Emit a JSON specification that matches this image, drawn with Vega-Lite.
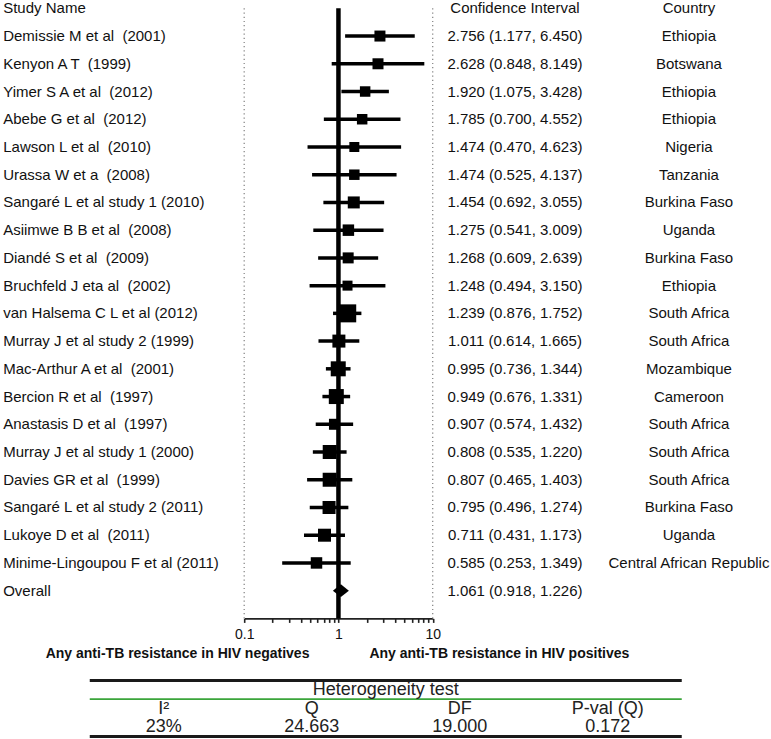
{
  "$schema": "https://vega.github.io/schema/vega-lite/v6.json",
  "background": "white",
  "padding": {"left": 3, "top": 0, "right": 0, "bottom": 0},
  "config": {"view": {"stroke": null}, "font": "Liberation Sans"},
  "datasets": {
    "rows": [
      {"study": "Study Name", "ci": "Confidence Interval", "country": "Country"},
      {"study": "Demissie M et al \u00a0(2001)", "or": 2.756, "lo": 1.177, "hi": 6.45, "w": 3.91, "ci": "2.756 (1.177, 6.450)", "country": "Ethiopia"},
      {"study": "Kenyon A T \u00a0(1999)", "or": 2.628, "lo": 0.848, "hi": 8.149, "w": 3.91, "ci": "2.628 (0.848, 8.149)", "country": "Botswana"},
      {"study": "Yimer S A et al \u00a0(2012)", "or": 1.92, "lo": 1.075, "hi": 3.428, "w": 3.55, "ci": "1.920 (1.075, 3.428)", "country": "Ethiopia"},
      {"study": "Abebe G et al \u00a0(2012)", "or": 1.785, "lo": 0.7, "hi": 4.552, "w": 3.55, "ci": "1.785 (0.700, 4.552)", "country": "Ethiopia"},
      {"study": "Lawson L et al \u00a0(2010)", "or": 1.474, "lo": 0.47, "hi": 4.623, "w": 3.23, "ci": "1.474 (0.470, 4.623)", "country": "Nigeria"},
      {"study": "Urassa W et a \u00a0(2008)", "or": 1.474, "lo": 0.525, "hi": 4.137, "w": 3.55, "ci": "1.474 (0.525, 4.137)", "country": "Tanzania"},
      {"study": "Sangaré L et al study 1 (2010)", "or": 1.454, "lo": 0.692, "hi": 3.055, "w": 4.65, "ci": "1.454 (0.692, 3.055)", "country": "Burkina Faso"},
      {"study": "Asiimwe B B et al \u00a0(2008)", "or": 1.275, "lo": 0.541, "hi": 3.009, "w": 4.26, "ci": "1.275 (0.541, 3.009)", "country": "Uganda"},
      {"study": "Diandé S et al \u00a0(2009)", "or": 1.268, "lo": 0.609, "hi": 2.639, "w": 3.91, "ci": "1.268 (0.609, 2.639)", "country": "Burkina Faso"},
      {"study": "Bruchfeld J eta al \u00a0(2002)", "or": 1.248, "lo": 0.494, "hi": 3.15, "w": 3.23, "ci": "1.248 (0.494, 3.150)", "country": "Ethiopia"},
      {"study": "van Halsema C L et al (2012)", "or": 1.239, "lo": 0.876, "hi": 1.752, "w": 10.47, "ci": "1.239 (0.876, 1.752)", "country": "South Africa"},
      {"study": "Murray J et al study 2 (1999)", "or": 1.011, "lo": 0.614, "hi": 1.665, "w": 5.46, "ci": "1.011 (0.614, 1.665)", "country": "South Africa"},
      {"study": "Mac-Arthur A et al \u00a0(2001)", "or": 0.995, "lo": 0.736, "hi": 1.344, "w": 7.27, "ci": "0.995 (0.736, 1.344)", "country": "Mozambique"},
      {"study": "Bercion R et al \u00a0(1997)", "or": 0.949, "lo": 0.676, "hi": 1.331, "w": 7.27, "ci": "0.949 (0.676, 1.331)", "country": "Cameroon"},
      {"study": "Anastasis D et al \u00a0(1997)", "or": 0.907, "lo": 0.574, "hi": 1.432, "w": 3.91, "ci": "0.907 (0.574, 1.432)", "country": "South Africa"},
      {"study": "Murray J et al study 1 (2000)", "or": 0.808, "lo": 0.535, "hi": 1.22, "w": 6.33, "ci": "0.808 (0.535, 1.220)", "country": "South Africa"},
      {"study": "Davies GR et al \u00a0(1999)", "or": 0.807, "lo": 0.465, "hi": 1.403, "w": 6.33, "ci": "0.807 (0.465, 1.403)", "country": "South Africa"},
      {"study": "Sangaré L et al study 2 (2011)", "or": 0.795, "lo": 0.496, "hi": 1.274, "w": 5.46, "ci": "0.795 (0.496, 1.274)", "country": "Burkina Faso"},
      {"study": "Lukoye D et al \u00a0(2011)", "or": 0.711, "lo": 0.431, "hi": 1.173, "w": 5.46, "ci": "0.711 (0.431, 1.173)", "country": "Uganda"},
      {"study": "Minime-Lingoupou F et al (2011)", "or": 0.585, "lo": 0.253, "hi": 1.349, "w": 4.26, "ci": "0.585 (0.253, 1.349)", "country": "Central African Republic"},
      {"study": "Overall", "or": 1.061, "lo": 0.918, "hi": 1.226, "ci": "1.061 (0.918, 1.226)", "country": ""}
    ],
    "het": [
      {"stat": "I²", "value": "23%"},
      {"stat": "Q", "value": "24.663"},
      {"stat": "DF", "value": "19.000"},
      {"stat": "P-val (Q)", "value": "0.172"}
    ]
  },
  "vconcat": [
    {
      "hconcat": [
        {
          "width": 233,
          "height": 618.4,
          "data": {"name": "rows"},
          "mark": {"type": "text", "align": "left", "fontSize": 15, "font": "Liberation Sans", "color": "#111"},
          "encoding": {
            "x": {"datum": "Study Name", "type": "nominal", "axis": null, "scale": {"type": "point", "padding": 0, "align": 0}},
            "y": {
              "field": "study", "type": "nominal", "axis": null,
              "scale": {
                "type": "point", "padding": 0.15, "align": 1,
                "domain": ["Study Name", "Demissie M et al \u00a0(2001)", "Kenyon A T \u00a0(1999)", "Yimer S A et al \u00a0(2012)", "Abebe G et al \u00a0(2012)", "Lawson L et al \u00a0(2010)", "Urassa W et a \u00a0(2008)", "Sangaré L et al study 1 (2010)", "Asiimwe B B et al \u00a0(2008)", "Diandé S et al \u00a0(2009)", "Bruchfeld J eta al \u00a0(2002)", "van Halsema C L et al (2012)", "Murray J et al study 2 (1999)", "Mac-Arthur A et al \u00a0(2001)", "Bercion R et al \u00a0(1997)", "Anastasis D et al \u00a0(1997)", "Murray J et al study 1 (2000)", "Davies GR et al \u00a0(1999)", "Sangaré L et al study 2 (2011)", "Lukoye D et al \u00a0(2011)", "Minime-Lingoupou F et al (2011)", "Overall", " "]
              }
            },
            "text": {"field": "study"}
          }
        },
        {
          "width": 188.5,
          "height": 618.4,
          "data": {"name": "rows"},
          "encoding": {
            "y": {
              "field": "study", "type": "nominal", "title": null, "axis": null,
              "scale": {
                "type": "point", "padding": 0.15, "align": 1,
                "domain": ["Study Name", "Demissie M et al \u00a0(2001)", "Kenyon A T \u00a0(1999)", "Yimer S A et al \u00a0(2012)", "Abebe G et al \u00a0(2012)", "Lawson L et al \u00a0(2010)", "Urassa W et a \u00a0(2008)", "Sangaré L et al study 1 (2010)", "Asiimwe B B et al \u00a0(2008)", "Diandé S et al \u00a0(2009)", "Bruchfeld J eta al \u00a0(2002)", "van Halsema C L et al (2012)", "Murray J et al study 2 (1999)", "Mac-Arthur A et al \u00a0(2001)", "Bercion R et al \u00a0(1997)", "Anastasis D et al \u00a0(1997)", "Murray J et al study 1 (2000)", "Davies GR et al \u00a0(1999)", "Sangaré L et al study 2 (2011)", "Lukoye D et al \u00a0(2011)", "Minime-Lingoupou F et al (2011)", "Overall", " "]
              }
            }
          },
          "layer": [
            {
              "data": {"values": [{"edge": 0.1}, {"edge": 10}]},
              "mark": {"type": "rule", "strokeDash": [1.2, 3], "color": "#8a8a8a", "strokeWidth": 1.3},
              "encoding": {
                "x": {
                  "field": "edge", "type": "quantitative", "title": null,
                  "scale": {"type": "log", "domain": [0.1, 10]},
                  "axis": {
                    "values": [0.1, 0.2, 0.3, 0.4, 0.5, 0.6, 0.7, 0.8, 0.9, 1, 2, 3, 4, 5, 6, 7, 8, 9, 10],
                    "format": "~g",
                    "labelExpr": "(datum.value == 0.1 || datum.value == 1 || datum.value == 10) ? datum.label : ''",
                    "grid": false, "domainColor": "#222", "domainWidth": 1.6, "tickColor": "#222",
                    "tickWidth": 1.6, "tickSize": 4, "labelFontSize": 14, "labelFont": "Liberation Sans",
                    "labelColor": "#111", "labelPadding": 5, "labelFlush": false, "labelOverlap": false, "title": null
                  }
                },
                "y": {"datum": "Study Name", "type": "nominal"},
                "y2": {"datum": " "}
              }
            },
            {
              "transform": [{"filter": "isValid(datum.w)"}],
              "mark": {"type": "rule", "color": "black", "strokeWidth": 3.5},
              "encoding": {
                "x": {"field": "lo", "type": "quantitative", "title": null},
                "x2": {"field": "hi"}
              }
            },
            {
              "transform": [{"filter": "isValid(datum.w)"}],
              "mark": {"type": "point", "shape": "square", "filled": true, "color": "black", "opacity": 1},
              "encoding": {
                "x": {"field": "or", "type": "quantitative", "title": null},
                "size": {"field": "w", "type": "quantitative", "scale": {"type": "linear", "domain": [0, 10.5], "range": [0, 325]}, "legend": null}
              }
            },
            {
              "transform": [{"filter": "datum.study == 'Overall'"}],
              "mark": {"type": "point", "shape": "M-1,0L0,-0.8L1,0L0,0.8Z", "filled": true, "color": "black", "opacity": 1, "size": 256},
              "encoding": {
                "x": {"field": "or", "type": "quantitative", "title": null}
              }
            },
            {
              "data": {"values": [{"ref": 1}]},
              "mark": {"type": "rule", "color": "black", "strokeWidth": 4.5},
              "encoding": {
                "x": {"field": "ref", "type": "quantitative", "title": null},
                "y": {"datum": "Study Name", "type": "nominal"},
                "y2": {"datum": " "}
              }
            },
            {
              "data": {"values": [{"side": "negatives", "label": "Any anti-TB resistance in HIV negatives", "ref": 1}]},
              "mark": {"type": "text", "align": "right", "dx": -29, "dy": 36, "fontSize": 14, "fontWeight": "bold", "font": "Liberation Sans", "color": "#111"},
              "encoding": {
                "x": {"field": "ref", "type": "quantitative", "title": null},
                "y": {"datum": " ", "type": "nominal"},
                "text": {"field": "label"}
              }
            },
            {
              "data": {"values": [{"side": "positives", "label": "Any anti-TB resistance in HIV positives", "ref": 1}]},
              "mark": {"type": "text", "align": "left", "dx": 31, "dy": 36, "fontSize": 14, "fontWeight": "bold", "font": "Liberation Sans", "color": "#111"},
              "encoding": {
                "x": {"field": "ref", "type": "quantitative", "title": null},
                "y": {"datum": " ", "type": "nominal"},
                "text": {"field": "label"}
              }
            }
          ]
        },
        {
          "width": 321.5,
          "height": 618.4,
          "data": {"name": "rows"},
          "transform": [
            {"fold": ["ci", "country"], "as": ["col", "txt"]},
            {"filter": "isValid(datum.txt) && datum.txt != ''"}
          ],
          "mark": {"type": "text", "fontSize": 15, "font": "Liberation Sans", "color": "#111"},
          "encoding": {
            "x": {"field": "col", "type": "nominal", "scale": {"type": "point", "domain": ["ci", "country"], "padding": 0.424}, "axis": null},
            "y": {
              "field": "study", "type": "nominal", "axis": null,
              "scale": {
                "type": "point", "padding": 0.15, "align": 1,
                "domain": ["Study Name", "Demissie M et al \u00a0(2001)", "Kenyon A T \u00a0(1999)", "Yimer S A et al \u00a0(2012)", "Abebe G et al \u00a0(2012)", "Lawson L et al \u00a0(2010)", "Urassa W et a \u00a0(2008)", "Sangaré L et al study 1 (2010)", "Asiimwe B B et al \u00a0(2008)", "Diandé S et al \u00a0(2009)", "Bruchfeld J eta al \u00a0(2002)", "van Halsema C L et al (2012)", "Murray J et al study 2 (1999)", "Mac-Arthur A et al \u00a0(2001)", "Bercion R et al \u00a0(1997)", "Anastasis D et al \u00a0(1997)", "Murray J et al study 1 (2000)", "Davies GR et al \u00a0(1999)", "Sangaré L et al study 2 (2011)", "Lukoye D et al \u00a0(2011)", "Minime-Lingoupou F et al (2011)", "Overall", " "]
              }
            },
            "text": {"field": "txt"}
          }
        }
      ],
      "spacing": 8,
      "bounds": "flush"
    },
    {
      "width": 592,
      "height": 56,
      "data": {"name": "het"},
      "encoding": {
        "x": {"field": "stat", "type": "nominal", "axis": null, "scale": {"type": "band", "domain": ["I²", "Q", "DF", "P-val (Q)"], "paddingInner": 0, "paddingOuter": 0}},
        "y": {"datum": "header", "type": "nominal", "axis": null, "scale": {"type": "band", "domain": ["title", "header", "values"], "paddingInner": 0, "paddingOuter": 0}}
      },
      "layer": [
        {
          "data": {"values": [{"line": "top"}]},
          "mark": {"type": "rule", "color": "#1a1a1a", "strokeWidth": 3},
          "encoding": {"x": null, "y": {"datum": "title", "type": "nominal", "bandPosition": 0}}
        },
        {
          "data": {"values": [{"line": "rule under title"}]},
          "mark": {"type": "rule", "color": "#3aa53a", "strokeWidth": 1.8},
          "encoding": {"x": null, "y": {"datum": "title", "type": "nominal", "bandPosition": 1}}
        },
        {
          "data": {"values": [{"line": "bottom"}]},
          "mark": {"type": "rule", "color": "#1a1a1a", "strokeWidth": 3},
          "encoding": {"x": null, "y": {"datum": "values", "type": "nominal", "bandPosition": 1}}
        },
        {
          "data": {"values": [{"title": "Heterogeneity test"}]},
          "mark": {"type": "text", "fontSize": 18, "font": "Liberation Sans", "color": "#222"},
          "encoding": {"x": null, "y": {"datum": "title", "type": "nominal"}, "text": {"field": "title"}}
        },
        {
          "mark": {"type": "text", "fontSize": 18, "font": "Liberation Sans", "color": "#222"},
          "encoding": {"y": {"datum": "header", "type": "nominal"}, "text": {"field": "stat"}}
        },
        {
          "mark": {"type": "text", "fontSize": 18, "font": "Liberation Sans", "color": "#222"},
          "encoding": {"y": {"datum": "values", "type": "nominal"}, "text": {"field": "value"}}
        }
      ]
    }
  ],
  "spacing": 16.5,
  "center": true
}
